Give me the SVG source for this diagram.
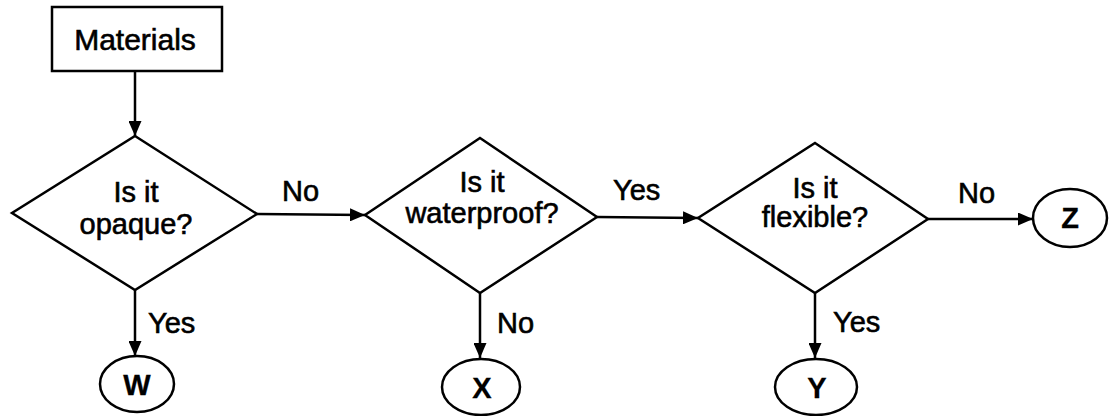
<svg xmlns="http://www.w3.org/2000/svg" width="1110" height="416" viewBox="0 0 1110 416">
<style>
.shape{fill:#fff;stroke:#000;stroke-width:2.5}
.edge{fill:none;stroke:#000;stroke-width:2.5}
.t{font-family:"Liberation Sans",Arial,sans-serif;font-size:29px;fill:#000;stroke:#000;stroke-width:0.6}
.c{text-anchor:middle}
.b{font-weight:bold;font-size:29px;stroke-width:0.3}
</style>
<defs>
<marker id="ah" markerUnits="userSpaceOnUse" markerWidth="15" markerHeight="13" refX="15" refY="6.5" orient="auto">
<path d="M0,0 L15,6.5 L0,13 z" fill="#000"/>
</marker>
</defs>
<rect width="1110" height="416" fill="#fff"/>
<g id="connectors">
<line class="edge" x1="135" y1="71" x2="135" y2="136" marker-end="url(#ah)"/>
<line class="edge" x1="257" y1="214" x2="365" y2="215" marker-end="url(#ah)"/>
<line class="edge" x1="597" y1="217" x2="698" y2="218" marker-end="url(#ah)"/>
<line class="edge" x1="928" y1="219" x2="1033" y2="219" marker-end="url(#ah)"/>
<line class="edge" x1="135" y1="290" x2="135" y2="356" marker-end="url(#ah)"/>
<line class="edge" x1="480" y1="293" x2="480" y2="358" marker-end="url(#ah)"/>
<line class="edge" x1="815" y1="293" x2="815" y2="358" marker-end="url(#ah)"/>
<text class="t" x="282" y="201">No</text>
<text class="t" x="613" y="200">Yes</text>
<text class="t" x="958" y="203">No</text>
<text class="t" x="148" y="333">Yes</text>
<text class="t" x="497" y="333">No</text>
<text class="t" x="833" y="332">Yes</text>
</g>
<g id="materials">
<rect class="shape" x="52" y="7" width="170" height="64"/>
<text class="t c" x="135" y="50" style="font-size:30px">Materials</text>
</g>
<g id="opaque">
<polygon class="shape" points="135,136 257,214 135,290 12,213"/>
<text class="t c" x="136" y="202">Is it</text>
<text class="t c" x="136" y="234">opaque?</text>
</g>
<g id="waterproof">
<polygon class="shape" points="480,138 597,217 480,293 365,215"/>
<text class="t c" x="482" y="192">Is it</text>
<text class="t c" x="482" y="223">waterproof?</text>
</g>
<g id="flexible">
<polygon class="shape" points="815,143 928,219 815,293 698,218"/>
<text class="t c" x="815" y="198">Is it</text>
<text class="t c" x="815" y="227">flexible?</text>
</g>
<g id="W">
<ellipse class="shape" cx="137" cy="384" rx="37" ry="28"/>
<text class="t c b" x="137" y="395">W</text>
</g>
<g id="X">
<ellipse class="shape" cx="481" cy="387" rx="39" ry="28"/>
<text class="t c b" x="482" y="398">X</text>
</g>
<g id="Y">
<ellipse class="shape" cx="816" cy="387" rx="41" ry="28"/>
<text class="t c b" x="817" y="398">Y</text>
</g>
<g id="Z">
<ellipse class="shape" cx="1070" cy="218" rx="37" ry="29"/>
<text class="t c b" x="1070" y="228">Z</text>
</g>
</svg>
